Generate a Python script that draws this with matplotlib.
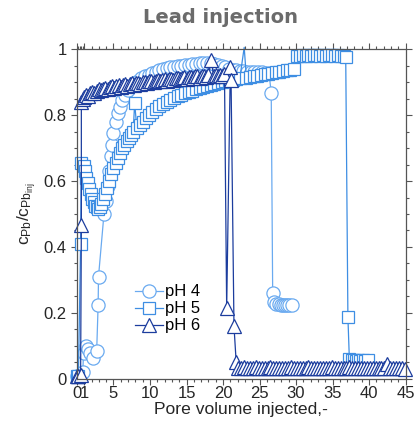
import numpy as np
import matplotlib
matplotlib.use('Agg')
import matplotlib.pyplot as plt
from matplotlib.lines import Line2D

plt.rcParams['font.family'] = ['Liberation Sans', 'DejaVu Sans']
plt.rcParams['mathtext.default'] = 'regular'

# pH 4 (circles)
x_ph4 = [0.0, 0.4, 0.8, 0.9, 1.2, 1.5, 1.8, 2.2, 2.7, 2.9, 2.95, 3.7, 4.0, 4.2, 4.4, 4.6, 4.8, 5.0,
         5.3, 5.6, 5.9, 6.2, 6.6, 7.0, 7.4, 7.8, 8.3, 8.8, 9.3, 9.8, 10.3, 10.8, 11.3, 11.8, 12.3,
         12.8, 13.3, 13.8, 14.3, 14.8, 15.3, 15.8, 16.3, 16.8, 17.3, 17.8, 18.3, 18.8, 19.3, 19.8,
         20.3, 20.8, 21.3, 21.8, 22.3, 22.8, 23.3, 23.8, 24.3, 24.8, 25.3, 25.8, 26.3, 26.6, 26.8,
         27.0, 27.3, 27.6, 27.9, 28.2, 28.5, 28.8, 29.1, 29.4]
y_ph4 = [0.01, 0.01, 0.02, 0.08, 0.10, 0.09, 0.08, 0.065, 0.085, 0.225, 0.31, 0.50, 0.54, 0.585,
         0.63, 0.675, 0.71, 0.745, 0.78, 0.805, 0.825, 0.845, 0.862, 0.876, 0.887, 0.896, 0.904,
         0.911, 0.917, 0.922, 0.927, 0.931, 0.935, 0.938, 0.941, 0.944, 0.946, 0.948, 0.950, 0.952,
         0.953, 0.955, 0.956, 0.957, 0.958, 0.958, 0.957, 0.955, 0.952, 0.950, 0.945, 0.940, 0.937,
         0.935, 0.933, 0.932, 0.931, 0.930, 0.930, 0.929, 0.929, 0.928, 0.927, 0.867, 0.26,
         0.232, 0.228, 0.226, 0.225, 0.225, 0.224, 0.225, 0.224, 0.225]

# pH 5 (squares)
x_ph5 = [0.0, 0.2, 0.5, 0.6, 0.9, 1.1, 1.3, 1.5, 1.7, 1.9, 2.1, 2.3, 2.5, 2.7, 2.9, 3.1, 3.3, 3.5,
         3.8, 4.1, 4.4, 4.7, 5.0, 5.3, 5.6, 5.9, 6.2, 6.5, 6.8, 7.1, 7.4, 7.7, 7.9, 8.2, 8.6, 9.0,
         9.4, 9.8, 10.3, 10.8, 11.3, 11.8, 12.3, 12.8, 13.3, 13.8, 14.3, 14.8, 15.3, 15.8, 16.3,
         16.8, 17.3, 17.8, 18.3, 18.8, 19.3, 19.8, 20.3, 20.8, 21.3, 21.8, 22.3, 22.9, 23.2, 23.7,
         24.2, 24.7, 25.2, 25.7, 26.2, 26.7, 27.2, 27.7, 28.2, 28.7, 29.2, 29.7, 30.1, 30.5, 30.9,
         31.3, 31.7, 32.1, 32.5, 32.9, 33.3, 33.7, 34.1, 34.5, 34.9, 35.3, 35.7, 36.1, 36.5, 36.8,
         37.1, 37.3, 37.6, 37.9, 38.2, 38.5, 38.8, 39.1, 39.4, 39.8]
y_ph5 = [0.01, 0.01, 0.41, 0.655, 0.645, 0.63, 0.61, 0.595, 0.575, 0.56, 0.545, 0.535, 0.525,
         0.52, 0.515, 0.52, 0.53, 0.545, 0.56, 0.58, 0.60, 0.62, 0.64, 0.655, 0.67, 0.685, 0.70,
         0.71, 0.72, 0.73, 0.74, 0.75, 0.836, 0.76, 0.77, 0.78, 0.79, 0.80, 0.81, 0.818, 0.826,
         0.833, 0.84, 0.846, 0.852, 0.857, 0.862, 0.866, 0.870, 0.874, 0.878, 0.881, 0.884, 0.887,
         0.890, 0.893, 0.896, 0.899, 0.902, 0.905, 0.907, 0.909, 0.911, 1.005, 0.913, 0.915, 0.917,
         0.919, 0.921, 0.923, 0.925, 0.927, 0.929, 0.931, 0.933, 0.935, 0.937, 0.940, 0.980,
         0.978, 0.981, 0.979, 0.982, 0.980, 0.983, 0.981, 0.979, 0.982, 0.980, 0.983, 0.981,
         0.979, 0.982, 0.980, 0.978, 0.977, 0.187, 0.06, 0.057, 0.057, 0.056, 0.057, 0.056,
         0.057, 0.056, 0.058]

# pH 6 (triangles)
x_ph6 = [0.0, 0.1, 0.2, 0.5, 0.6, 0.6, 0.8, 1.0, 1.2, 1.5, 1.8, 2.1, 2.4, 2.7, 3.0, 3.3, 3.6,
         3.9, 4.2, 4.5, 4.8, 5.1, 5.4, 5.7, 6.0, 6.3, 6.6, 6.9, 7.2, 7.5, 7.8, 8.1, 8.4, 8.7, 9.0,
         9.3, 9.6, 9.9, 10.2, 10.5, 10.8, 11.1, 11.4, 11.7, 12.0, 12.3, 12.6, 12.9, 13.2, 13.5,
         13.8, 14.1, 14.4, 14.7, 15.0, 15.3, 15.6, 15.9, 16.2, 16.5, 16.8, 17.1, 17.4, 17.7, 18.0,
         18.4, 18.7, 19.0, 19.3, 19.6, 19.9, 20.2, 20.5, 21.0, 21.1, 21.5, 21.8, 22.1, 22.5, 22.9,
         23.3, 23.7, 24.1, 24.5, 24.9, 25.3, 25.7, 26.1, 26.5, 26.9, 27.3, 27.7, 28.1, 28.5, 28.9,
         29.3, 29.7, 30.1, 30.5, 30.9, 31.3, 31.7, 32.1, 32.5, 32.9, 33.3, 33.7, 34.1, 34.5, 34.9,
         35.3, 35.7, 36.1, 36.5, 36.9, 37.3, 37.7, 38.1, 38.5, 38.9, 39.3, 39.7, 40.1, 40.5, 40.9,
         41.3, 41.7, 42.1, 42.5, 42.9, 43.3, 43.7, 44.1, 44.5, 44.9]
y_ph6 = [0.01, 0.01, 0.01, 0.012, 0.467, 0.84, 0.848, 0.855, 0.86, 0.858, 0.866, 0.87, 0.868,
         0.874, 0.878, 0.875, 0.88, 0.883, 0.879, 0.884, 0.887, 0.883, 0.888, 0.89, 0.886, 0.891,
         0.893, 0.889, 0.894, 0.896, 0.892, 0.897, 0.898, 0.894, 0.899, 0.901, 0.897, 0.902, 0.903,
         0.899, 0.904, 0.906, 0.902, 0.907, 0.908, 0.904, 0.909, 0.91, 0.906, 0.911, 0.912, 0.908,
         0.913, 0.914, 0.91, 0.915, 0.916, 0.912, 0.917, 0.917, 0.913, 0.918, 0.919, 0.915, 0.92,
         0.967, 0.918, 0.921, 0.917, 0.922, 0.919, 0.923, 0.214, 0.944, 0.907, 0.16, 0.052, 0.034,
         0.033, 0.035, 0.032, 0.034, 0.033, 0.035, 0.033, 0.032, 0.034, 0.033, 0.035, 0.032, 0.034,
         0.033, 0.032, 0.034, 0.033, 0.035, 0.032, 0.033, 0.034, 0.032, 0.033, 0.035, 0.033, 0.032,
         0.034, 0.033, 0.032, 0.034, 0.033, 0.035, 0.032, 0.033, 0.034, 0.032, 0.033, 0.035, 0.033,
         0.032, 0.034, 0.033, 0.032, 0.034, 0.033, 0.032, 0.034, 0.033, 0.032, 0.033, 0.045, 0.034,
         0.033, 0.032, 0.034, 0.033, 0.03]

series = [
    ('pH 4', x_ph4, y_ph4, 'o', '#6aaaf0', 9.5),
    ('pH 5', x_ph5, y_ph5, 's', '#3e8ee3', 8.8),
    ('pH 6', x_ph6, y_ph6, '^', '#1c3d9e', 10.5),
]

fig = plt.figure(figsize=(4.16, 4.28), dpi=100)
ax = fig.add_axes([0.185, 0.1145, 0.79, 0.771])

handles = []
for name, xs, ys, mk, col, ms in series:
    keep = [i for i in range(len(ys)) if ys[i] <= 1.0]
    ax.plot(xs, ys, color=col, lw=0.9, marker=mk, ms=ms, mfc='white', mec=col, mew=0.9,
            markevery=keep, clip_on=False)
    handles.append(Line2D([], [], color=col, lw=0.9, marker=mk, ms=ms, mfc='white', mec=col,
                          mew=0.9, label=name))

ax.set_xlim(0, 45)
ax.set_ylim(0, 1)
ax.set_xticks([0, 1, 5, 10, 15, 20, 25, 30, 35, 40, 45])
ax.set_xticklabels(['0', '1', '5', '10', '15', '20', '25', '30', '35', '40', '45'])
minor_x = [0.2, 0.4, 0.6, 0.8] + [i for i in range(2, 45) if i % 5 != 0]
ax.set_xticks(minor_x, minor=True)
ax.set_yticks([0, 0.2, 0.4, 0.6, 0.8, 1.0])
ax.set_yticklabels(['0', '0.2', '0.4', '0.6', '0.8', '1'])
ax.set_yticks([0.05, 0.1, 0.15, 0.25, 0.3, 0.35, 0.45, 0.5, 0.55, 0.65, 0.7, 0.75, 0.85, 0.9, 0.95],
              minor=True)

for sp in ax.spines.values():
    sp.set_color('#555555')
    sp.set_linewidth(0.9)
ax.tick_params(which='both', direction='out', top=True, right=True, colors='#555555',
               labelcolor='#262626', labelsize=12, width=0.8)
ax.tick_params(which='major', length=4)
ax.tick_params(which='minor', length=2.5)
ax.tick_params(axis='x', pad=1)

ax.set_xlabel('Pore volume injected,-', fontsize=12.6, color='#262626', labelpad=1)
ax.set_ylabel('$c_{Pb}/c_{Pb_{inj}}$', fontsize=12.5, color='#262626', labelpad=3)
fig.text(0.53, 0.958, 'Lead injection', ha='center', va='center', fontsize=14,
         fontweight='bold', color='#6b6b6b', family='DejaVu Sans')

ax.legend(handles=handles, loc='lower left', bbox_to_anchor=(0.155, 0.118), frameon=False,
          fontsize=12, handlelength=1.7, handletextpad=0.15, labelspacing=0.12, borderaxespad=0)

fig.savefig('out.png', dpi=100)
